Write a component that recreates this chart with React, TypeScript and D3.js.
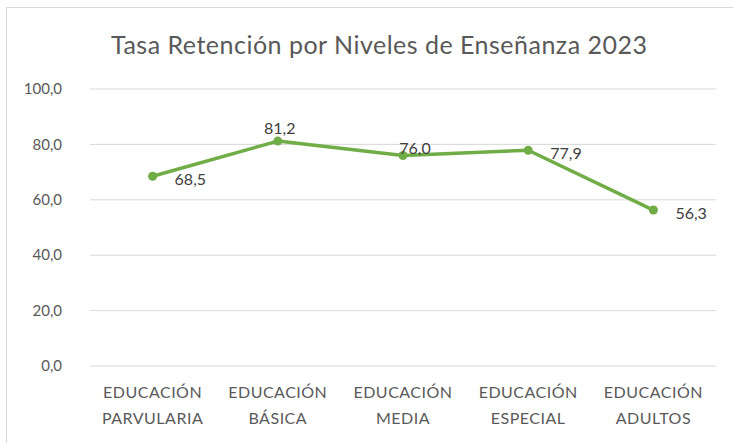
import React from "react";
import * as d3 from "d3";

const categories: string[][] = [
  ["EDUCACIÓN", "PARVULARIA"],
  ["EDUCACIÓN", "BÁSICA"],
  ["EDUCACIÓN", "MEDIA"],
  ["EDUCACIÓN", "ESPECIAL"],
  ["EDUCACIÓN", "ADULTOS"],
];
const values: number[] = [68.5, 81.2, 76.0, 77.9, 56.3];
const labelPlacement: string[] = ["right", "above", "aboveRight", "right", "right"];
const yTicks: number[] = [0, 20, 40, 60, 80, 100];
const title = "Tasa Retención por Niveles de Enseñanza 2023";

const W = 733;
const H = 443;
const FONT = "Lato, 'Open Sans', sans-serif";

export default function App() {
  const x = d3
    .scaleBand<number>()
    .domain(values.map((_, i) => i))
    .range([90, 716]);
  const y = d3.scaleLinear().domain([0, 100]).range([366, 89]);
  const fmt = (v: number) => d3.format(".1f")(v).replace(".", ",");
  const cx = (i: number) => (x(i) as number) + x.bandwidth() / 2;
  const line = d3
    .line<number>()
    .x((_, i) => cx(i))
    .y((d) => y(d));

  const labelPos = (p: string, i: number, v: number) => {
    if (p === "above") return { x: cx(i) + 2, y: y(v) - 7, anchor: "middle" };
    if (p === "aboveRight") return { x: cx(i) + 12, y: y(v) - 1, anchor: "middle" };
    return { x: cx(i) + 22, y: y(v) + 9, anchor: "start" };
  };

  return (
    <svg
      width={W}
      height={H}
      style={{ position: "absolute", left: 0, top: 0, background: "#fff" }}
      fontFamily={FONT}
    >
      <rect x={6.5} y={7.5} width={740} height={450} fill="#fff" stroke="#d9d9d9" />
      <text
        x={379}
        y={54}
        textAnchor="middle"
        fontSize={25}
        fill="#595959"
        textLength={536}
        lengthAdjust="spacing"
      >
        {title}
      </text>
      {yTicks.map((t) => (
        <g key={t}>
          <line x1={90} x2={716} y1={y(t)} y2={y(t)} stroke="#d9d9d9" strokeWidth={1} />
          <text x={62} y={y(t)} dy="0.35em" textAnchor="end" fontSize={15} fill="#595959">
            {fmt(t)}
          </text>
        </g>
      ))}
      {categories.map((c, i) => (
        <text
          key={i}
          x={cx(i)}
          textAnchor="middle"
          fontSize={16}
          letterSpacing={0.5}
          fill="#595959"
        >
          <tspan x={cx(i)} y={398}>{c[0]}</tspan>
          <tspan x={cx(i)} y={424}>{c[1]}</tspan>
        </text>
      ))}
      <path d={line(values) || ""} fill="none" stroke="#70ad47" strokeWidth={3.5} strokeLinejoin="round" />
      {values.map((v, i) => (
        <circle key={i} cx={cx(i)} cy={y(v)} r={4.5} fill="#70ad47" />
      ))}
      {values.map((v, i) => {
        const p = labelPos(labelPlacement[i], i, v);
        return (
          <text
            key={i}
            x={p.x}
            y={p.y}
            textAnchor={p.anchor}
            fontSize={16}
            fill="#404040"
          >
            {fmt(v)}
          </text>
        );
      })}
    </svg>
  );
}
